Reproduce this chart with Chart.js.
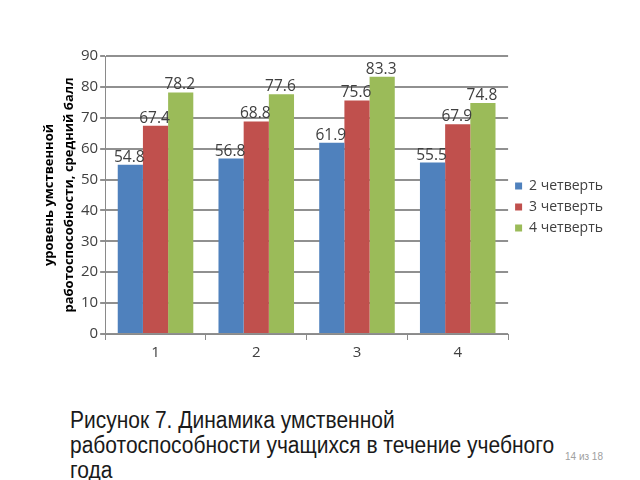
<!DOCTYPE html>
<html>
<head>
<meta charset="utf-8">
<script src="https://cdn.jsdelivr.net/npm/chart.js@4/dist/chart.umd.min.js"></script>
<style>
  html, body { margin: 0; padding: 0; background: #fff; width: 640px; height: 480px; overflow: hidden; }
  #wrap { position: absolute; left: 0; top: 0; width: 640px; height: 390px; }
  #caption { position: absolute; left: 70px; top: 408px; white-space: nowrap; font-family: "Liberation Sans", Arial, sans-serif; font-size: 23px; line-height: 25px; color: #1a1a1a; transform: scaleX(0.912); transform-origin: 0 0; }
  #page { position: absolute; left: 565px; top: 451px; font-family: "Liberation Sans", Arial, sans-serif; font-size: 10px; color: #a0a0a0; }
</style>
</head>
<body>
<div id="wrap"><canvas id="c" width="640" height="390"></canvas></div>
<div id="caption">Рисунок 7. Динамика умственной<br>работоспособности учащихся в течение учебного<br>года</div>
<div id="page">14 из 18</div>
<script>
const categories = ['1', '2', '3', '4'];
const seriesNames = ['2 четверть', '3 четверть', '4 четверть'];
const quarter2 = [54.8, 56.8, 61.9, 55.5];
const quarter3 = [67.4, 68.8, 75.6, 67.9];
const quarter4 = [78.2, 77.6, 83.3, 74.8];
const yAxisTitle = ['уровень умственной', 'работоспособности, средний балл'];
const yMin = 0, yMax = 90, yStep = 10;

const colors = ['#4F81BD', '#C0504D', '#9BBB59'];

const valueLabels = {
  id: 'valueLabels',
  afterDatasetsDraw(chart) {
    const ctx = chart.ctx;
    ctx.save();
    ctx.font = '15.5px "Open Sans", sans-serif';
    ctx.fillStyle = '#404040';
    ctx.textAlign = 'center';
    ctx.textBaseline = 'alphabetic';
    chart.data.datasets.forEach((ds, i) => {
      const meta = chart.getDatasetMeta(i);
      meta.data.forEach((bar, j) => {
        ctx.fillText(String(ds.data[j]), bar.x - 1, bar.y - 3);
      });
    });
    ctx.restore();
  }
};

const legendShift = {
  id: 'legendShift',
  afterLayout(chart) {
    if (chart.legend) {
      chart.legend.top -= 4;
      chart.legend.bottom -= 4;
    }
  }
};

new Chart(document.getElementById('c'), {
  type: 'bar',
  data: {
    labels: categories,
    datasets: [
      { label: seriesNames[0], data: quarter2, backgroundColor: colors[0] },
      { label: seriesNames[1], data: quarter3, backgroundColor: colors[1] },
      { label: seriesNames[2], data: quarter4, backgroundColor: colors[2] }
    ]
  },
  options: {
    responsive: false,
    animation: false,
    layout: { padding: { left: 40, top: 56, right: 27, bottom: 24 } },
    datasets: { bar: { barPercentage: 1, categoryPercentage: 0.75 } },
    plugins: {
      tooltip: { enabled: false },
      legend: {
        position: 'right',
        labels: {
          boxWidth: 7, boxHeight: 7, padding: 7,
          color: '#404040',
          font: { family: '"Open Sans", sans-serif', size: 14 }
        }
      }
    },
    scales: {
      x: {
        grid: { offset: true, drawOnChartArea: false, tickLength: 6, color: '#8a8a8a', lineWidth: 1 },
        border: { color: '#8a8a8a', width: 1 },
        ticks: { color: '#404040', font: { family: '"Open Sans", sans-serif', size: 15 }, padding: 4 }
      },
      y: {
        min: yMin, max: yMax,
        ticks: { stepSize: yStep, color: '#404040', font: { family: '"Open Sans", sans-serif', size: 15 }, padding: 2 },
        grid: { color: '#909090', lineWidth: 2, tickLength: 5 },
        border: { color: '#8a8a8a', width: 1 },
        title: {
          display: true,
          text: yAxisTitle,
          color: '#000',
          font: { family: '"Open Sans", sans-serif', size: 13, weight: 'bold', lineHeight: 1.5 },
          padding: 0
        }
      }
    }
  },
  plugins: [valueLabels, legendShift]
});
</script>
</body>
</html>
